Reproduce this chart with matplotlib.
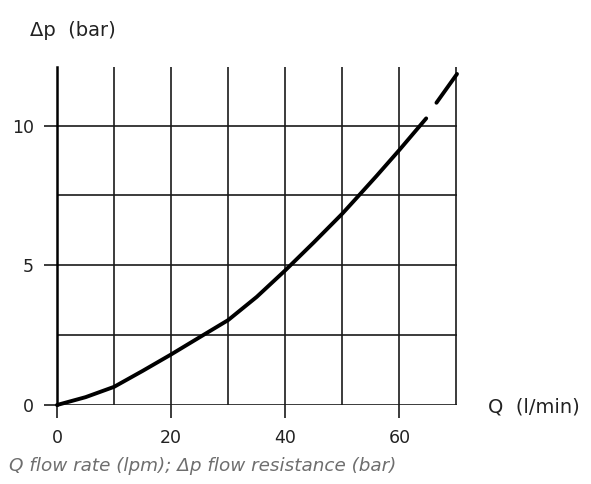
import matplotlib
matplotlib.use("Agg")
import matplotlib.pyplot as plt
from matplotlib.ticker import MultipleLocator

# ---------------------------------------------------------
# Data
# ---------------------------------------------------------
q_solid = [0, 5, 10, 15, 20, 25.6, 30, 35, 40, 45, 50, 52.9, 56, 60, 64.7]
dp_solid = [0, 0.28, 0.65, 1.22, 1.81, 2.5, 3.04, 3.87, 4.82, 5.82, 6.85, 7.5, 8.2, 9.13, 10.26]

# extrapolated (dashed) part
q_ext = [66.5, 70.1]
dp_ext = [10.82, 11.85]

x_ticks = [0, 20, 40, 60]
y_ticks = [0, 5, 10]

plt.rcParams['font.family'] = ['DejaVu Sans']

fig = plt.figure(figsize=(5.91, 4.84), dpi=100)
ax = fig.add_axes([57 / 591, 79 / 484, 400 / 591, 338 / 484])

ax.set_xlim(0, 70.1)
ax.set_ylim(0, 12.1)

ax.set_xticks(x_ticks)
ax.set_yticks(y_ticks)
ax.xaxis.set_minor_locator(MultipleLocator(10))
ax.yaxis.set_minor_locator(MultipleLocator(2.5))

ax.grid(True, which='both', color='#1a1a1a', linewidth=1.2)
ax.set_axisbelow(True)

for side in ['top', 'right', 'bottom']:
    ax.spines[side].set_visible(False)
ax.spines['left'].set_linewidth(1.8)
ax.spines['left'].set_color('black')

ax.tick_params(which='major', direction='out', length=9.5, width=1.2,
               color='#1a1a1a', labelsize=12.5, labelcolor='#222222')
ax.tick_params(axis='x', which='major', pad=8)
ax.tick_params(axis='y', which='major', pad=7)
ax.tick_params(which='minor', length=0)

ax.plot(q_solid, dp_solid, color='black', linewidth=2.8,
        solid_capstyle='round', clip_on=False, zorder=5)
ax.plot(q_ext, dp_ext, color='black', linewidth=2.8,
        solid_capstyle='round', clip_on=False, zorder=5)

fig.text(30 / 591, 1 - 30 / 484, '\u0394p  (bar)', fontsize=14,
         ha='left', va='center', color='#222222')
fig.text(488 / 591, 1 - 407 / 484, 'Q  (l/min)', fontsize=14,
         ha='left', va='center', color='#222222')
fig.text(9 / 591, 1 - 466 / 484, 'Q flow rate (lpm); \u0394p flow resistance (bar)',
         fontsize=13.2, style='italic', ha='left', va='center', color='#6e6e6e')

plt.savefig('out.png', dpi=100)
